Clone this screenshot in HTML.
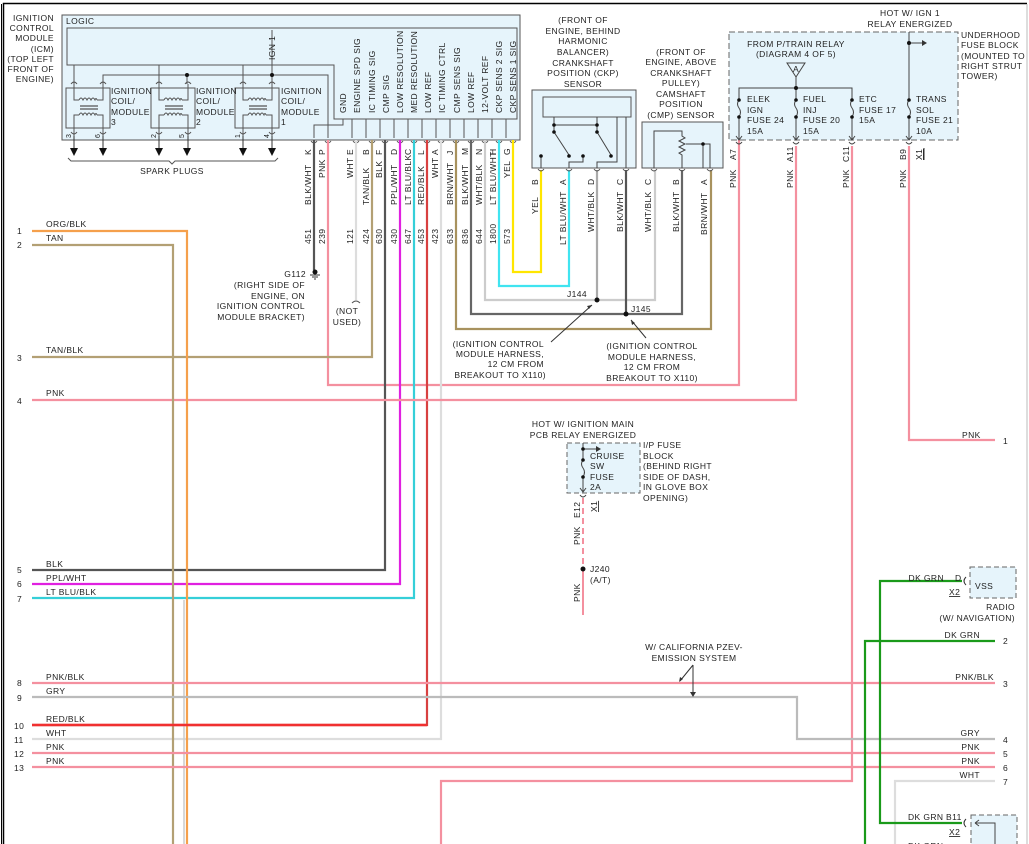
<!DOCTYPE html>
<html><head><meta charset="utf-8"><style>
html,body{margin:0;padding:0;background:#fff}
svg{display:block}
text{font-family:"Liberation Sans",sans-serif;font-size:8.5px;fill:#222;letter-spacing:0.4px}
.v{}
</style></head><body>
<svg width="1029" height="844" viewBox="0 0 1029 844" xmlns="http://www.w3.org/2000/svg">
<rect x="0" y="0" width="1029" height="844" fill="#fff"/>
<!-- frame -->
<path d="M3.5 844 V3.5 H1027" stroke="#000" stroke-width="1.5" fill="none"/>
<line x1="1.5" y1="4" x2="1.5" y2="844" stroke="#000" stroke-width="1"/>
<line x1="1027" y1="4" x2="1027" y2="844" stroke="#bbb" stroke-width="1"/>

<!-- ICM box -->
<rect x="62" y="15" width="458" height="125" fill="#e6f4fb" stroke="#555" stroke-width="1"/>
<text x="66" y="24">LOGIC</text>
<path d="M67 28 H517 V119 H334 V65 H67 Z" fill="none" stroke="#555" stroke-width="1"/>
<g text-anchor="end">
<text x="54" y="21">IGNITION</text><text x="54" y="31">CONTROL</text><text x="54" y="41">MODULE</text><text x="54" y="52">(ICM)</text><text x="54" y="62">(TOP LEFT</text><text x="54" y="72">FRONT OF</text><text x="54" y="82">ENGINE)</text>
</g>
<!-- coil supply lines -->
<path d="M74 65 V84 M159 65 V84 M243 65 V84" stroke="#555" fill="none"/>
<path d="M103 84 V75 H328 V138 M187 75 V84 M272 75 V84 M272 75 V30" stroke="#555" fill="none"/>
<circle cx="187" cy="75" r="2" fill="#111"/><circle cx="272" cy="75" r="2" fill="#111"/>
<text transform="translate(275,60) rotate(-90)">IGN 1</text>
<!-- GND -->
<path d="M343 119 V125 H314 V138" stroke="#555" fill="none"/>
<!-- coils -->
<g id="c1" fill="none" stroke="#555" stroke-width="1">
<rect x="66" y="88" width="44" height="40"/>
<path d="M71 84 q3 -4 6 0 M100 84 q3 -4 6 0"/>
<path d="M74 84 V100 H79 M103 84 V100 H97 M79 100 q2 -4 4 0 q2 -4 4 0 q2 -4 4 0 q2 -4 4 0 q1 -3 2 0"/>
<path d="M80 106 H98 M80 109 H98" stroke-width="1.3"/>
<path d="M79 115 q2 -4 4 0 q2 -4 4 0 q2 -4 4 0 q2 -4 4 0 q1 -3 2 0 M79 115 H74 V136 M97 115 H103 V136"/>
<path d="M71 132 q3 4 6 0 M100 132 q3 4 6 0"/>
<path d="M74 136 V148 M103 136 V148" stroke="#333"/>
</g>
<g transform="translate(85,0)" fill="none" stroke="#555" stroke-width="1">
<rect x="66" y="88" width="44" height="40"/>
<path d="M71 84 q3 -4 6 0 M100 84 q3 -4 6 0"/>
<path d="M74 84 V100 H79 M103 84 V100 H97 M79 100 q2 -4 4 0 q2 -4 4 0 q2 -4 4 0 q2 -4 4 0 q1 -3 2 0"/>
<path d="M80 106 H98 M80 109 H98" stroke-width="1.3"/>
<path d="M79 115 q2 -4 4 0 q2 -4 4 0 q2 -4 4 0 q2 -4 4 0 q1 -3 2 0 M79 115 H74 V136 M97 115 H103 V136"/>
<path d="M71 132 q3 4 6 0 M100 132 q3 4 6 0"/>
<path d="M74 136 V148 M103 136 V148" stroke="#333"/>
</g>
<g transform="translate(169,0)" fill="none" stroke="#555" stroke-width="1">
<rect x="66" y="88" width="44" height="40"/>
<path d="M71 84 q3 -4 6 0 M100 84 q3 -4 6 0"/>
<path d="M74 84 V100 H79 M103 84 V100 H97 M79 100 q2 -4 4 0 q2 -4 4 0 q2 -4 4 0 q2 -4 4 0 q1 -3 2 0"/>
<path d="M80 106 H98 M80 109 H98" stroke-width="1.3"/>
<path d="M79 115 q2 -4 4 0 q2 -4 4 0 q2 -4 4 0 q2 -4 4 0 q1 -3 2 0 M79 115 H74 V136 M97 115 H103 V136"/>
<path d="M71 132 q3 4 6 0 M100 132 q3 4 6 0"/>
<path d="M74 136 V148 M103 136 V148" stroke="#333"/>
</g>
<text x="111" y="94">IGNITION</text><text x="111" y="104">COIL/</text><text x="111" y="115">MODULE</text><text x="111" y="125">3</text>
<text x="196" y="94">IGNITION</text><text x="196" y="104">COIL/</text><text x="196" y="115">MODULE</text><text x="196" y="125">2</text>
<text x="281" y="94">IGNITION</text><text x="281" y="104">COIL/</text><text x="281" y="115">MODULE</text><text x="281" y="125">1</text>
<g font-size="7">
<text transform="translate(71,138) rotate(-90)" style="font-size:7px">3</text>
<text transform="translate(100,138) rotate(-90)" style="font-size:7px">6</text>
<text transform="translate(156,138) rotate(-90)" style="font-size:7px">2</text>
<text transform="translate(184,138) rotate(-90)" style="font-size:7px">5</text>
<text transform="translate(240,138) rotate(-90)" style="font-size:7px">1</text>
<text transform="translate(269,138) rotate(-90)" style="font-size:7px">4</text>
</g>
<g fill="#111">
<path d="M70 148 h8 l-4 8 z M99 148 h8 l-4 8 z M155 148 h8 l-4 8 z M183 148 h8 l-4 8 z M239 148 h8 l-4 8 z M268 148 h8 l-4 8 z"/>
</g>
<path d="M68 158 l3 3 H169 l3 3 l3 -3 H275 l3 -3" fill="none" stroke="#555"/>
<text x="172" y="174" text-anchor="middle">SPARK PLUGS</text>

<!-- signal labels -->
<g>
<text transform="translate(346,113) rotate(-90)">GND</text>
<text transform="translate(360,113) rotate(-90)">ENGINE SPD SIG</text>
<text transform="translate(375,113) rotate(-90)">IC TIMING SIG</text>
<text transform="translate(389,113) rotate(-90)">CMP SIG</text>
<text transform="translate(403,113) rotate(-90)">LOW RESOLUTION</text>
<text transform="translate(417,113) rotate(-90)">MED RESOLUTION</text>
<text transform="translate(431,113) rotate(-90)">LOW REF</text>
<text transform="translate(445,113) rotate(-90)">IC TIMING CTRL</text>
<text transform="translate(460,113) rotate(-90)">CMP SENS SIG</text>
<text transform="translate(474,113) rotate(-90)">LOW REF</text>
<text transform="translate(488,113) rotate(-90)">12-VOLT REF</text>
<text transform="translate(502,113) rotate(-90)">CKP SENS 2 SIG</text>
<text transform="translate(516,113) rotate(-90)">CKP SENS 1 SIG</text>
</g>
<g stroke="#555" fill="none">
<path d="M352 119 V138 M366 119 V138 M380 119 V138 M394 119 V138 M408 119 V138 M422 119 V138 M436 119 V138 M450 119 V138 M464 119 V138 M478 119 V138 M492 119 V138 M506 119 V138"/>
</g>
<!-- pins arrows / arcs for ICM -->
<g stroke="#555" fill="none" stroke-width="0.9">
<path d="M311 141 q3 4 6 0 M325 141 q3 4 6 0 M353 141 q3 4 6 0 M369 141 q3 4 6 0 M382 141 q3 4 6 0 M397 141 q3 4 6 0 M411 141 q3 4 6 0 M424 141 q3 4 6 0 M438 141 q3 4 6 0 M453 141 q3 4 6 0 M468 141 q3 4 6 0 M482 141 q3 4 6 0 M496 141 q3 4 6 0 M510 141 q3 4 6 0"/>
</g>

<!-- ICM wires -->
<g fill="none" stroke-width="2.2">
<path d="M314 140 V270" stroke="#555"/>
<path d="M328 140 V385 H739 V140" stroke="#f4909f"/>
<path d="M356 140 V300" stroke="#ddd"/>
<path d="M372 140 V357 H32" stroke="#b3a074"/>
<path d="M385 140 V570 H32" stroke="#555"/>
<path d="M400 140 V584 H32" stroke="#e020e0"/>
<path d="M414 140 V598 H32" stroke="#35cfd8"/>
<path d="M427 140 V725 H32" stroke="#d84040"/>
<path d="M441 140 V739 H32" stroke="#ddd"/>
<path d="M456 140 V329 H711 V170" stroke="#a8925e"/>
<path d="M471 140 V314 H682 V170" stroke="#666"/>
<path d="M485 140 V300 H655 V170" stroke="#ccc"/>
<path d="M499 140 V286 H569 V170" stroke="#40e4f0"/>
<path d="M513 140 V272 H541 V170" stroke="#ffe600"/>
<path d="M597 170 V300" stroke="#aaa"/>
<path d="M626 170 V314" stroke="#555"/>
</g>
<circle cx="597" cy="300" r="2.5" fill="#111"/><circle cx="626" cy="314" r="2.5" fill="#111"/>
<text x="567" y="297">J144</text><text x="631" y="312">J145</text>

<!-- ICM pin labels -->
<g>
<text transform="translate(311,155) rotate(-90)">K</text><text transform="translate(311,205) rotate(-90)">BLK/WHT</text><text transform="translate(311,244) rotate(-90)">451</text>
<text transform="translate(325,155) rotate(-90)">P</text><text transform="translate(325,178) rotate(-90)">PNK</text><text transform="translate(325,244) rotate(-90)">239</text>
<text transform="translate(353,155) rotate(-90)">E</text><text transform="translate(353,178) rotate(-90)">WHT</text><text transform="translate(353,244) rotate(-90)">121</text>
<text transform="translate(369,155) rotate(-90)">B</text><text transform="translate(369,205) rotate(-90)">TAN/BLK</text><text transform="translate(369,244) rotate(-90)">424</text>
<text transform="translate(382,155) rotate(-90)">F</text><text transform="translate(382,178) rotate(-90)">BLK</text><text transform="translate(382,244) rotate(-90)">630</text>
<text transform="translate(397,155) rotate(-90)">D</text><text transform="translate(397,205) rotate(-90)">PPL/WHT</text><text transform="translate(397,244) rotate(-90)">430</text>
<text transform="translate(411,155) rotate(-90)">C</text><text transform="translate(411,205) rotate(-90)">LT BLU/BLK</text><text transform="translate(411,244) rotate(-90)">647</text>
<text transform="translate(424,155) rotate(-90)">L</text><text transform="translate(424,205) rotate(-90)">RED/BLK</text><text transform="translate(424,244) rotate(-90)">453</text>
<text transform="translate(438,155) rotate(-90)">A</text><text transform="translate(438,178) rotate(-90)">WHT</text><text transform="translate(438,244) rotate(-90)">423</text>
<text transform="translate(453,155) rotate(-90)">J</text><text transform="translate(453,205) rotate(-90)">BRN/WHT</text><text transform="translate(453,244) rotate(-90)">633</text>
<text transform="translate(468,155) rotate(-90)">M</text><text transform="translate(468,205) rotate(-90)">BLK/WHT</text><text transform="translate(468,244) rotate(-90)">836</text>
<text transform="translate(482,155) rotate(-90)">N</text><text transform="translate(482,205) rotate(-90)">WHT/BLK</text><text transform="translate(482,244) rotate(-90)">644</text>
<text transform="translate(496,155) rotate(-90)">H</text><text transform="translate(496,205) rotate(-90)">LT BLU/WHT</text><text transform="translate(496,244) rotate(-90)">1800</text>
<text transform="translate(510,155) rotate(-90)">G</text><text transform="translate(510,178) rotate(-90)">YEL</text><text transform="translate(510,244) rotate(-90)">573</text>
</g>

<!-- G112 -->
<circle cx="315" cy="272" r="2.5" fill="#111"/>
<path d="M310 275 h10 M312 277 h6 M314 279 h2" stroke="#333"/>
<g text-anchor="end"><text x="306" y="277">G112</text><text x="305" y="288">(RIGHT SIDE OF</text><text x="305" y="299">ENGINE, ON</text><text x="305" y="309">IGNITION CONTROL</text><text x="305" y="320">MODULE BRACKET)</text></g>
<path d="M352 303 q4 -4 8 0" stroke="#555" fill="none"/>
<text x="347" y="314" text-anchor="middle">(NOT</text><text x="347" y="325" text-anchor="middle">USED)</text>

<!-- harness callouts -->
<path d="M551 342 L592 305" stroke="#333"/><path d="M592 305 l-5 1 l2 3 z" fill="#333"/>
<path d="M646 338 L631 320" stroke="#333"/><path d="M631 320 l1 5 l3 -2 z" fill="#333"/>
<g text-anchor="end"><text x="544" y="347">(IGNITION CONTROL</text><text x="544" y="357">MODULE HARNESS,</text><text x="544" y="367">12 CM FROM</text><text x="546" y="378">BREAKOUT TO X110)</text></g>
<g text-anchor="middle"><text x="652" y="349">(IGNITION CONTROL</text><text x="652" y="360">MODULE HARNESS,</text><text x="652" y="370">12 CM FROM</text><text x="652" y="381">BREAKOUT TO X110)</text></g>

<!-- CKP sensor -->
<g text-anchor="middle"><text x="583" y="23">(FRONT OF</text><text x="583" y="34">ENGINE, BEHIND</text><text x="583" y="44">HARMONIC</text><text x="583" y="55">BALANCER)</text><text x="583" y="66">CRANKSHAFT</text><text x="583" y="76">POSITION (CKP)</text><text x="583" y="87">SENSOR</text></g>
<rect x="532" y="90" width="104" height="78" fill="#e6f4fb" stroke="#555"/>
<rect x="543" y="97" width="88" height="20" fill="#e6f4fb" stroke="#555"/>
<g stroke="#444" fill="none">
<path d="M554 117 V125 H597 V117 M554 132 L569 155 M597 132 L611 155 M617 117 V162 H597 V168 M626 117 V168 M541 156 V168 M583 156 V162 H569 V168"/>
<path d="M554 125 V132 M597 125 V132"/>
</g>
<g fill="#111"><circle cx="554" cy="125" r="1.8"/><circle cx="554" cy="132" r="1.8"/><circle cx="597" cy="125" r="1.8"/><circle cx="597" cy="132" r="1.8"/><circle cx="569" cy="156" r="1.8"/><circle cx="583" cy="156" r="1.8"/><circle cx="611" cy="156" r="1.8"/><circle cx="541" cy="156" r="1.8"/></g>
<g stroke="#555" fill="none" stroke-width="0.9"><path d="M538 169 q3 4 6 0 M566 169 q3 4 6 0 M594 169 q3 4 6 0 M623 169 q3 4 6 0 M651 169 q3 4 6 0 M679 169 q3 4 6 0 M707 169 q3 4 6 0"/></g>
<text transform="translate(538,185) rotate(-90)">B</text><text transform="translate(538,214) rotate(-90)">YEL</text>
<text transform="translate(566,185) rotate(-90)">A</text><text transform="translate(566,245) rotate(-90)">LT BLU/WHT</text>
<text transform="translate(594,185) rotate(-90)">D</text><text transform="translate(594,232) rotate(-90)">WHT/BLK</text>
<text transform="translate(623,185) rotate(-90)">C</text><text transform="translate(623,232) rotate(-90)">BLK/WHT</text>

<!-- CMP sensor -->
<g text-anchor="middle"><text x="681" y="55">(FRONT OF</text><text x="681" y="65">ENGINE, ABOVE</text><text x="681" y="76">CRANKSHAFT</text><text x="681" y="86">PULLEY)</text><text x="681" y="97">CAMSHAFT</text><text x="681" y="107">POSITION</text><text x="681" y="118">(CMP) SENSOR</text></g>
<rect x="642" y="122" width="81" height="46" fill="#e6f4fb" stroke="#555"/>
<g stroke="#444" fill="none">
<path d="M654 168 V131 H682 V136 l3 2 l-6 3 l6 3 l-6 3 l6 3 l-6 3 l3 2 V168 M686 144 H703 V168 M710 168 V144 H703"/>
</g>
<circle cx="703" cy="144" r="1.8" fill="#111"/>
<text transform="translate(651,185) rotate(-90)">C</text><text transform="translate(651,232) rotate(-90)">WHT/BLK</text>
<text transform="translate(679,185) rotate(-90)">B</text><text transform="translate(679,232) rotate(-90)">BLK/WHT</text>
<text transform="translate(707,185) rotate(-90)">A</text><text transform="translate(707,235) rotate(-90)">BRN/WHT</text>

<!-- underhood fuse block -->
<g text-anchor="middle"><text x="910" y="16">HOT W/ IGN 1</text><text x="910" y="27">RELAY ENERGIZED</text></g>
<rect x="729" y="32" width="229" height="108" fill="#e6f4fb" stroke="#666" stroke-dasharray="6,3"/>
<g><text x="961" y="38">UNDERHOOD</text><text x="961" y="48">FUSE BLOCK</text><text x="961" y="59">(MOUNTED TO</text><text x="961" y="69">RIGHT STRUT</text><text x="961" y="79">TOWER)</text></g>
<g text-anchor="middle"><text x="796" y="47">FROM P/TRAIN RELAY</text><text x="796" y="57">(DIAGRAM 4 OF 5)</text></g>
<path d="M787 63 H805 L796 77 Z" fill="none" stroke="#444"/><text x="796" y="72" text-anchor="middle">A</text>
<g stroke="#444" fill="none">
<path d="M796 77 V88 M739 100 V88 H852 V100 M796 88 V100 M909 32 V100 M909 43 H922"/>
<path d="M739 100 q-3 4 0 8 q3 4 0 9 M796 100 q-3 4 0 8 q3 4 0 9 M852 100 q-3 4 0 8 q3 4 0 9 M909 100 q-3 4 0 8 q3 4 0 9"/>
<path d="M739 117 V139 M796 117 V139 M852 117 V139 M909 117 V139"/>
<path d="M736 136 l3 4 l3 -4 M793 136 l3 4 l3 -4 M849 136 l3 4 l3 -4 M906 136 l3 4 l3 -4"/>
<path d="M736 142 q3 4 6 0 M793 142 q3 4 6 0 M849 142 q3 4 6 0 M906 142 q3 4 6 0"/>
</g>
<path d="M922 40 l5 3 l-5 3 z" fill="#333"/>
<g fill="#111"><circle cx="796" cy="88" r="2"/><circle cx="909" cy="43" r="2"/>
<circle cx="739" cy="100" r="1.8"/><circle cx="739" cy="117" r="1.8"/><circle cx="796" cy="100" r="1.8"/><circle cx="796" cy="117" r="1.8"/><circle cx="852" cy="100" r="1.8"/><circle cx="852" cy="117" r="1.8"/><circle cx="909" cy="100" r="1.8"/><circle cx="909" cy="117" r="1.8"/></g>
<text x="747" y="102">ELEK</text><text x="747" y="113">IGN</text><text x="747" y="123">FUSE 24</text><text x="747" y="134">15A</text>
<text x="803" y="102">FUEL</text><text x="803" y="113">INJ</text><text x="803" y="123">FUSE 20</text><text x="803" y="134">15A</text>
<text x="859" y="102">ETC</text><text x="859" y="113">FUSE 17</text><text x="859" y="123">15A</text>
<text x="916" y="102">TRANS</text><text x="916" y="113">SOL</text><text x="916" y="123">FUSE 21</text><text x="916" y="134">10A</text>
<text transform="translate(736,160) rotate(-90)">A7</text><text transform="translate(736,188) rotate(-90)">PNK</text>
<text transform="translate(793,162) rotate(-90)">A11</text><text transform="translate(793,188) rotate(-90)">PNK</text>
<text transform="translate(849,162) rotate(-90)">C11</text><text transform="translate(849,188) rotate(-90)">PNK</text>
<text transform="translate(906,160) rotate(-90)">B9</text><text transform="translate(906,188) rotate(-90)">PNK</text>
<text transform="translate(922,160) rotate(-90)" style="text-decoration:underline">X1</text>
<line x1="924" y1="148" x2="924" y2="160" stroke="#333"/>

<!-- fuse block wires -->
<g fill="none" stroke-width="2.2">
<path d="M796 146 V400 H32" stroke="#f4909f"/>
<path d="M852 146 V781 H441 V844" stroke="#f4909f"/>
<path d="M909 146 V440 H995" stroke="#f4909f"/>
</g>
<text x="962" y="438">PNK</text><text x="1003" y="444">1</text>

<!-- left wires -->
<g fill="none" stroke-width="2.2">
<path d="M32 231 H187 V844" stroke="#f5a04c"/>
<path d="M32 245 H173 V844" stroke="#b3a074"/>
<path d="M184 600 V844" stroke="#ccc" stroke-width="1.5"/>
<path d="M32 683 H995" stroke="#f4909f"/>
<path d="M32 697 H797 V739 H995" stroke="#bbb"/>
<path d="M32 753 H995" stroke="#f4909f"/>
<path d="M32 767 H995" stroke="#f4909f"/>
<path d="M995 781 H895 V844" stroke="#ddd"/>
<path d="M995 641 H865 V844" stroke="#1a9a1a"/>
<path d="M962 581 H880 V823 H962" stroke="#1a9a1a"/>
</g>
<path d="M32 725 H427" stroke="#f03030" stroke-width="2.4" fill="none"/>
<g>
<text x="17" y="234">1</text><text x="46" y="227">ORG/BLK</text>
<text x="17" y="248">2</text><text x="46" y="241">TAN</text>
<text x="17" y="361">3</text><text x="46" y="353">TAN/BLK</text>
<text x="17" y="404">4</text><text x="46" y="396">PNK</text>
<text x="17" y="573">5</text><text x="46" y="567">BLK</text>
<text x="17" y="587">6</text><text x="46" y="581">PPL/WHT</text>
<text x="17" y="602">7</text><text x="46" y="595">LT BLU/BLK</text>
<text x="17" y="686">8</text><text x="46" y="680">PNK/BLK</text>
<text x="17" y="701">9</text><text x="46" y="694">GRY</text>
<text x="14" y="729">10</text><text x="46" y="722">RED/BLK</text>
<text x="14" y="743">11</text><text x="46" y="736">WHT</text>
<text x="14" y="757">12</text><text x="46" y="750">PNK</text>
<text x="14" y="771">13</text><text x="46" y="764">PNK</text>
</g>
<g text-anchor="end">
<text x="994" y="680">PNK/BLK</text><text x="980" y="736">GRY</text><text x="980" y="750">PNK</text><text x="980" y="764">PNK</text><text x="980" y="778">WHT</text><text x="980" y="638">DK GRN</text>
</g>
<text x="1003" y="687">3</text><text x="1003" y="743">4</text><text x="1003" y="757">5</text><text x="1003" y="771">6</text><text x="1003" y="785">7</text><text x="1003" y="644">2</text>

<!-- radio VSS -->
<rect x="970" y="567" width="46" height="31" fill="#e6f4fb" stroke="#666" stroke-dasharray="5,3"/>
<text x="975" y="589">VSS</text>
<path d="M966 577 q-4 4 0 8" stroke="#333" fill="none"/>
<text x="944" y="581" text-anchor="end">DK GRN</text><text x="955" y="581">D</text>
<text x="949" y="595" style="text-decoration:underline">X2</text>
<g text-anchor="end"><text x="1015" y="610">RADIO</text><text x="1015" y="621">(W/ NAVIGATION)</text></g>
<rect x="971" y="815" width="46" height="40" fill="#e6f4fb" stroke="#666" stroke-dasharray="5,3"/>
<path d="M966 819 q-4 4 0 8" stroke="#333" fill="none"/>
<path d="M975 823 H995 V844 M975 823 l4 -3 M975 823 l4 3" stroke="#444" fill="none"/>
<text x="908" y="820">DK GRN</text><text x="946" y="820">B11</text>
<text x="949" y="835" style="text-decoration:underline">X2</text>
<text x="908" y="849">DK GRN</text>

<!-- cruise fuse -->
<g text-anchor="middle"><text x="583" y="427">HOT W/ IGNITION MAIN</text><text x="583" y="438">PCB RELAY ENERGIZED</text></g>
<rect x="567" y="443" width="73" height="50" fill="#e6f4fb" stroke="#666" stroke-dasharray="5,3"/>
<g stroke="#444" fill="none"><path d="M583 443 V460 q-3 4 0 8 q3 4 0 9 V491 M583 449 H596 M580 488 l3 4 l3 -4 M580 495 q3 4 6 0"/></g>
<path d="M596 446 l5 3 l-5 3 z" fill="#333"/>
<g fill="#111"><circle cx="583" cy="449" r="1.8"/><circle cx="583" cy="460" r="1.8"/><circle cx="583" cy="477" r="1.8"/></g>
<text x="590" y="459">CRUISE</text><text x="590" y="469">SW</text><text x="590" y="480">FUSE</text><text x="590" y="490">2A</text>
<text x="643" y="448">I/P FUSE</text><text x="643" y="459">BLOCK</text><text x="643" y="469">(BEHIND RIGHT</text><text x="643" y="480">SIDE OF DASH,</text><text x="643" y="490">IN GLOVE BOX</text><text x="643" y="501">OPENING)</text>
<path d="M583 498 V565" stroke="#f4909f" stroke-width="2" stroke-dasharray="6,4"/>
<path d="M583 569 V615" stroke="#f4909f" stroke-width="2"/>
<circle cx="583" cy="569" r="2.5" fill="#111"/>
<text x="590" y="572">J240</text><text x="590" y="583">(A/T)</text>
<text transform="translate(580,518) rotate(-90)">E12</text>
<text transform="translate(580,545) rotate(-90)">PNK</text>
<text transform="translate(580,602) rotate(-90)">PNK</text>
<text transform="translate(597,512) rotate(-90)" style="text-decoration:underline">X1</text>

<!-- PZEV -->
<g text-anchor="middle"><text x="694" y="650">W/ CALIFORNIA PZEV-</text><text x="694" y="661">EMISSION SYSTEM</text></g>
<path d="M693 665 L680 681 M693 665 V695" stroke="#333" fill="none"/>
<path d="M679 682 l1 -5 l3 2 z M690 692 h6 l-3 5 z" fill="#333"/>
</svg>
</body></html>
